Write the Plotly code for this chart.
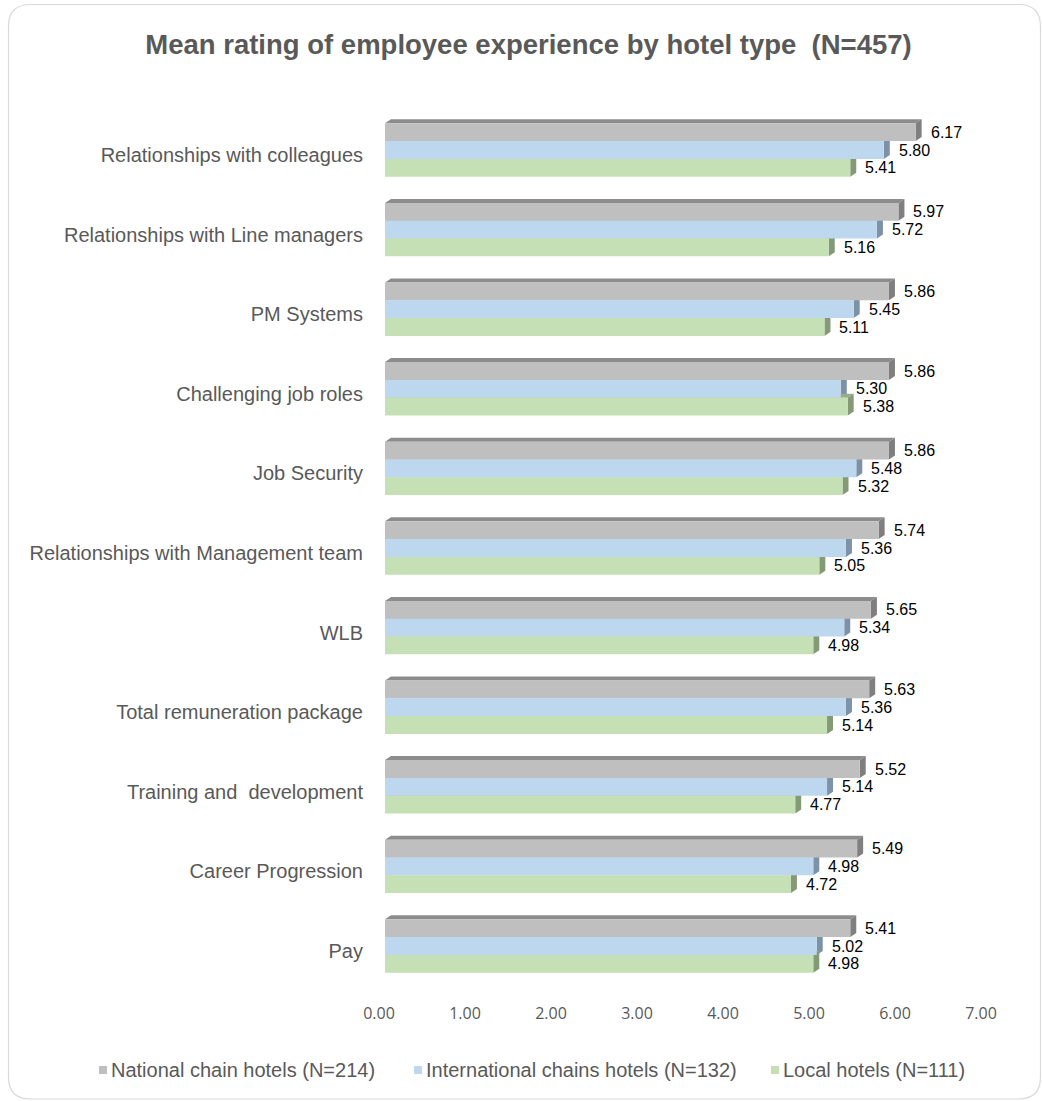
import plotly.graph_objects as go

# ---- data -------------------------------------------------------------
categories = [
    "Relationships with colleagues",
    "Relationships with Line managers",
    "PM Systems",
    "Challenging job roles",
    "Job Security",
    "Relationships with Management team",
    "WLB",
    "Total remuneration package",
    "Training and\u00a0 development",
    "Career Progression",
    "Pay",
]
national = [6.17, 5.97, 5.86, 5.86, 5.86, 5.74, 5.65, 5.63, 5.52, 5.49, 5.41]
international = [5.80, 5.72, 5.45, 5.30, 5.48, 5.36, 5.34, 5.36, 5.14, 4.98, 5.02]
local = [5.41, 5.16, 5.11, 5.38, 5.32, 5.05, 4.98, 5.14, 4.77, 4.72, 4.98]
series_names = [
    "National chain hotels (N=214)",
    "International chains hotels (N=132)",
    "Local hotels (N=111)",
]
x_ticks = [0, 1, 2, 3, 4, 5, 6, 7]

# ---- styling ------------------------------------------------------------
W, H = 1042, 1101
front_colors = ["#BFBFBF", "#BDD7EE", "#C5E0B4"]
top_colors = ["#8C8C8C", "#8FA3B6", "#97AC8A"]
side_colors = ["#7F7F7F", "#7D92A7", "#849A77"]

# plot area in pixels
px_left, px_right = 385, 987
px_top, px_bottom = 110.2, 985.8
x_max = 7
n_cat = len(categories)
px_per_x = (px_right - px_left) / x_max
px_per_cat = (px_bottom - px_top) / n_cat

bar_w = 17.8 / px_per_cat          # bar thickness in category units
depth_x = 6 / px_per_x             # 3-D depth, horizontal component
depth_y = 4 / px_per_cat           # 3-D depth, vertical component

fig = go.Figure()
shapes = []
annotations = []

for s, (vals, name) in enumerate(zip([national, international, local], series_names)):
    offset = (s - 1.5) * bar_w
    ypos = list(range(n_cat))
    fig.add_trace(go.Bar(
        x=vals, y=ypos, orientation="h", name=name,
        width=bar_w, offset=offset,
        marker=dict(color=front_colors[s], line=dict(width=0)),
        hoverinfo="x+name", showlegend=False,
    ))
    for i, v in enumerate(vals):
        top = i + offset
        bot = top + bar_w
        # top face
        shapes.append(dict(
            type="path", xref="x", yref="y", layer="below",
            path=f"M0,{top} L{depth_x},{top - depth_y} L{v + depth_x},{top - depth_y} L{v},{top} Z",
            fillcolor=top_colors[s], line=dict(width=0),
        ))
        # side face
        shapes.append(dict(
            type="path", xref="x", yref="y", layer="below",
            path=f"M{v},{top} L{v + depth_x},{top - depth_y} L{v + depth_x},{bot - depth_y} L{v},{bot} Z",
            fillcolor=side_colors[s], line=dict(width=0),
        ))
        # value label
        annotations.append(dict(
            x=v, y=top + bar_w / 2, xref="x", yref="y",
            text=f"{v:.2f}", showarrow=False, xanchor="left", yanchor="middle",
            xshift=13, font=dict(family="Liberation Sans, Arial", size=16, color="#000000"),
        ))

def pxx(v):
    return v / W

def pxy(v):
    return 1 - v / H

# legend: small colour key followed directly by the series name
legend_text_x = [110, 425, 782]
legend_y = 1070
key = 8
for s, name in enumerate(series_names):
    tx = legend_text_x[s]
    shapes.append(dict(
        type="rect", xref="paper", yref="paper",
        x0=pxx(tx - 3 - key), x1=pxx(tx - 3), y0=pxy(legend_y + key / 2), y1=pxy(legend_y - key / 2),
        fillcolor=front_colors[s], line=dict(width=0),
    ))
    annotations.append(dict(
        x=pxx(tx), y=pxy(legend_y), xref="paper", yref="paper",
        text=name, showarrow=False, xanchor="left", yanchor="middle",
        borderpad=0, font=dict(family="Liberation Sans, Arial", size=20, color="#595959"),
    ))

# rounded frame around the chart
fx0, fy0, fx1, fy1, r = 8.5, 4.5, 1040.5, 1099, 22
frame = (
    f"M{pxx(fx0 + r)},{pxy(fy0)} L{pxx(fx1 - r)},{pxy(fy0)} "
    f"Q{pxx(fx1)},{pxy(fy0)} {pxx(fx1)},{pxy(fy0 + r)} "
    f"L{pxx(fx1)},{pxy(fy1 - r)} Q{pxx(fx1)},{pxy(fy1)} {pxx(fx1 - r)},{pxy(fy1)} "
    f"L{pxx(fx0 + r)},{pxy(fy1)} Q{pxx(fx0)},{pxy(fy1)} {pxx(fx0)},{pxy(fy1 - r)} "
    f"L{pxx(fx0)},{pxy(fy0 + r)} Q{pxx(fx0)},{pxy(fy0)} {pxx(fx0 + r)},{pxy(fy0)} Z"
)
shapes.append(dict(type="path", xref="paper", yref="paper", path=frame,
                   line=dict(color="#D9D9D9", width=1.2), layer="below"))

fig.update_layout(
    width=W, height=H,
    margin=dict(l=0, r=0, t=0, b=0, autoexpand=False),
    paper_bgcolor="white", plot_bgcolor="rgba(0,0,0,0)",
    barmode="overlay",
    title=dict(
        text="<b>Mean rating of employee experience by hotel type\u00a0 (N=457)</b>",
        x=528.5 / W, xref="paper", xanchor="center",
        y=1 - 44 / H, yref="paper", yanchor="middle",
        font=dict(family="Liberation Sans, Arial", size=27.5, color="#595959"),
    ),
    xaxis=dict(
        domain=[px_left / W, px_right / W], range=[0, x_max],
        tickvals=x_ticks, ticktext=[f"{t:.2f}" for t in x_ticks],
        showgrid=False, zeroline=False, showline=False, ticks="",
        tickfont=dict(family="Open Sans", size=16, color="#595959"),
        ticklabelshift=-6, ticklabelstandoff=16, automargin=False, fixedrange=True,
    ),
    yaxis=dict(
        domain=[1 - px_bottom / H, 1 - px_top / H], range=[n_cat - 0.5, -0.5],
        tickvals=list(range(n_cat)), ticktext=categories,
        showgrid=False, zeroline=False, showline=False, ticks="",
        tickfont=dict(family="Liberation Sans, Arial", size=20, color="#595959"),
        ticklabelstandoff=21, ticklabelshift=-5, automargin=False, fixedrange=True,
    ),
    shapes=shapes,
    annotations=annotations,
    showlegend=False,
)

fig.write_html("out.html")
